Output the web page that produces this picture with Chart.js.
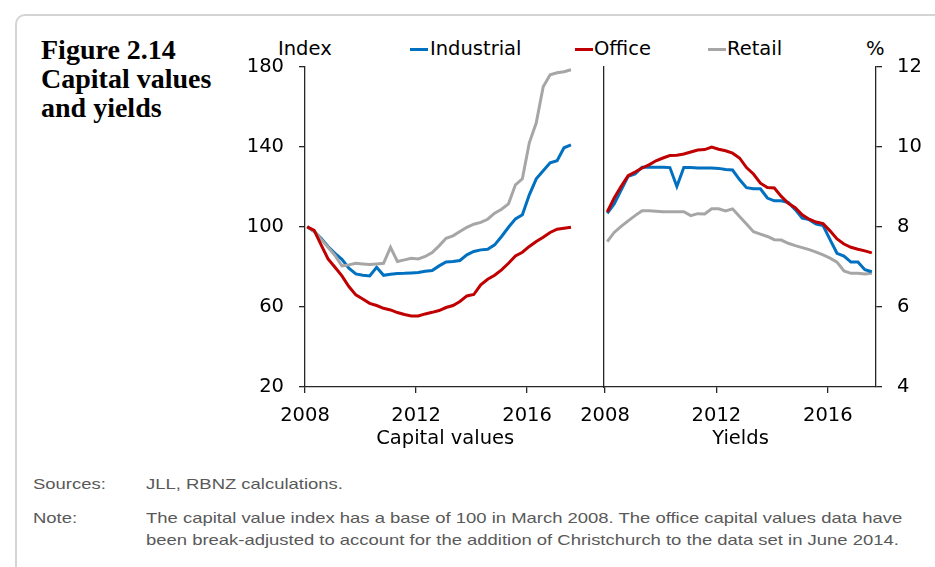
<!DOCTYPE html>
<html>
<head>
<meta charset="utf-8">
<script src="https://cdn.jsdelivr.net/npm/chart.js@4"></script>
<style>
  body { margin: 0; width: 935px; height: 567px; background: #fff; position: relative; overflow: hidden; font-family: 'DejaVu Sans', sans-serif; }
  .frame { position: absolute; left: 15px; top: 14px; width: 1000px; height: 700px; border: 2px solid #d4d4d4; border-radius: 10px; }
  .title { position: absolute; left: 41px; top: 35px; font: bold 28px/29px 'Liberation Serif', serif; color: #000; }
  .leg { position: absolute; top: 39px; font-size: 19.5px; line-height: 20px; color: #000; white-space: nowrap; }
  .sw { position: absolute; top: 48px; width: 18px; height: 3px; }
  .note { position: absolute; font: 15px/22px 'Liberation Sans', sans-serif; color: #595959; white-space: nowrap; transform: scaleX(1.23); transform-origin: 0 0; }
  canvas { position: absolute; }
</style>
</head>
<body>
<div class="frame"></div>
<div class="title">Figure 2.14<br>Capital values<br>and yields</div>

<div class="leg" style="left:278px">Index</div>
<div class="sw" style="left:410px;background:#0070c0"></div>
<div class="leg" style="left:430px">Industrial</div>
<div class="sw" style="left:575px;background:#c00000"></div>
<div class="leg" style="left:594px">Office</div>
<div class="sw" style="left:708px;background:#a6a6a6"></div>
<div class="leg" style="left:727px">Retail</div>
<div class="leg" style="left:866px">%</div>

<canvas id="capital" width="420" height="415" style="left:190px;top:40px"></canvas>
<canvas id="yields" width="375" height="415" style="left:560px;top:40px"></canvas>

<div class="note" style="left:33px;top:473px">Sources:</div>
<div class="note" style="left:146px;top:473px">JLL, RBNZ calculations.</div>
<div class="note" style="left:33px;top:507px">Note:</div>
<div class="note" style="left:146px;top:507px">The capital value index has a base of 100 in March 2008. The office capital values data have<br>been break-adjusted to account for the addition of Christchurch to the data set in June 2014.</div>

<script>
// quarterly observations, March 2008 to September 2017
const quarters = [
  '2008Q1','2008Q2','2008Q3','2008Q4','2009Q1','2009Q2','2009Q3','2009Q4',
  '2010Q1','2010Q2','2010Q3','2010Q4','2011Q1','2011Q2','2011Q3','2011Q4',
  '2012Q1','2012Q2','2012Q3','2012Q4','2013Q1','2013Q2','2013Q3','2013Q4',
  '2014Q1','2014Q2','2014Q3','2014Q4','2015Q1','2015Q2','2015Q3','2015Q4',
  '2016Q1','2016Q2','2016Q3','2016Q4','2017Q1','2017Q2','2017Q3'
];

// capital values index (March 2008 = 100)
const industrialCV = [100, 97.7, 94.3, 90.2, 86.8, 83.8, 79.3, 76.5, 75.8, 75.5, 79.8, 75.8, 76.3, 76.7, 76.8, 77, 77.2, 77.8, 78.2, 80.5,
  82.5, 82.7, 83.2, 86, 87.7, 88.5, 88.8, 91, 95.2, 99.8, 104, 106, 116, 124, 128, 132, 133, 139.5, 141];
const officeCV = [100, 98.2, 91, 84, 79.8, 75.5, 70.2, 66, 64, 61.8, 60.7, 59.3, 58.5, 57.2, 56.2, 55.5, 55.5, 56.5, 57.3, 58.2,
  59.7, 60.7, 62.7, 65.5, 66.2, 71, 73.8, 75.8, 78.5, 81.8, 85.5, 87.3, 90.2, 92.7, 94.8, 97.2, 98.8, 99.3, 99.8];
const retailCV = [100, 97.8, 93.8, 89.8, 85.7, 80.5, 81, 81.8, 81.5, 81.2, 81.5, 81.8, 89.8, 82.7, 83.5, 84.3, 84, 85.2, 87.2, 90.5,
  94.3, 95.5, 97.7, 99.8, 101.3, 102.2, 103.8, 106.8, 108.8, 111.5, 121, 124, 142, 152, 170, 176, 177, 177.5, 178.5];

// yields, %
const industrialYield = [8.34, 8.57, 8.92, 9.26, 9.32, 9.49, 9.49, 9.49, 9.49, 9.48, 9.01, 9.48, 9.48, 9.47, 9.47, 9.47, 9.46, 9.43, 9.42, 9.18,
  8.98, 8.95, 8.95, 8.72, 8.65, 8.65, 8.61, 8.43, 8.22, 8.18, 8.07, 8.03, 7.68, 7.34, 7.27, 7.12, 7.12, 6.93, 6.88];
const officeYield = [8.37, 8.72, 9.01, 9.28, 9.37, 9.47, 9.55, 9.65, 9.72, 9.78, 9.79, 9.82, 9.87, 9.92, 9.93, 9.99, 9.94, 9.9, 9.84, 9.72,
  9.48, 9.32, 9.09, 8.98, 8.97, 8.76, 8.59, 8.48, 8.3, 8.19, 8.12, 8.08, 7.9, 7.7, 7.57, 7.49, 7.44, 7.4, 7.35];
const retailYield = [7.63, 7.86, 8.01, 8.15, 8.28, 8.4, 8.4, 8.39, 8.38, 8.38, 8.38, 8.38, 8.28, 8.33, 8.32, 8.45, 8.45, 8.4, 8.45, 8.26,
  8.07, 7.88, 7.82, 7.76, 7.68, 7.67, 7.59, 7.53, 7.48, 7.43, 7.37, 7.3, 7.22, 7.12, 6.9, 6.84, 6.84, 6.82, 6.84];

const yearTicks = [2008, 2012, 2016];
const indexTicks = [20, 60, 100, 140, 180];
const yieldTicks = [4, 6, 8, 10, 12];

const BLUE = '#0070c0', RED = '#c00000', GREY = '#a6a6a6';
const axisColor = '#262626';

Chart.defaults.font.family = "'DejaVu Sans', sans-serif";
Chart.defaults.font.size = 19.5;
Chart.defaults.color = '#000';

// quarter label -> decimal year (plotted roughly at start of the quarter)
const toYear = (q) => parseInt(q) + (parseInt(q.slice(5)) - 1) / 4 + 0.08;
const pts = (vals) => vals.map((v, i) => ({ x: toYear(quarters[i]), y: v }));

const line = (label, vals, color, order) => ({
  label, data: pts(vals), borderColor: color, backgroundColor: color,
  borderWidth: 3, pointRadius: 0, tension: 0, order
});

function xAxis(max, title) {
  return {
    type: 'linear', min: 2008, max,
    afterBuildTicks: (s) => { s.ticks = yearTicks.map((v) => ({ value: v })); },
    afterFit: (s) => { s.height = 68; },
    border: { color: axisColor, width: 1.3 },
    grid: { drawOnChartArea: false, drawTicks: true, tickLength: 6, color: axisColor, lineWidth: 1.3 },
    ticks: { padding: 11, maxRotation: 0, autoSkip: false, callback: (v) => String(v) },
    title: { display: true, text: title, color: '#000', padding: { top: 0, bottom: 4 } }
  };
}

function yAxis(min, max, ticks, position, width) {
  return {
    type: 'linear', min, max, position,
    afterBuildTicks: (s) => { s.ticks = ticks.map((v) => ({ value: v })); },
    afterFit: (s) => { s.width = width; },
    border: { color: axisColor, width: 1.3 },
    grid: { drawOnChartArea: false, drawTicks: true, tickLength: 6, color: axisColor, lineWidth: 1.3 },
    ticks: { padding: 15 }
  };
}

new Chart(document.getElementById('capital'), {
  type: 'line',
  data: {
    datasets: [
      line('Industrial', industrialCV, BLUE, 3),
      line('Office', officeCV, RED, 1),
      line('Retail', retailCV, GREY, 2)
    ]
  },
  options: {
    responsive: false,
    animation: false,
    devicePixelRatio: 1,
    layout: { padding: { top: 1, right: 6, bottom: 0, left: 0 } },
    plugins: { legend: { display: false }, tooltip: { enabled: false } },
    scales: {
      x: xAxis(2018.77, 'Capital values   '),
      y: yAxis(20, 180, indexTicks, 'left', 115),
      // divider between the two panels
      y2: {
        type: 'linear', min: 20, max: 180, position: 'right',
        afterFit: (s) => { s.width = 0; },
        grid: { display: false },
        ticks: { display: false },
        border: { display: true, color: axisColor, width: 1.3 }
      }
    }
  }
});

new Chart(document.getElementById('yields'), {
  type: 'line',
  data: {
    datasets: [
      line('Industrial', industrialYield, BLUE, 2),
      line('Office', officeYield, RED, 1),
      line('Retail', retailYield, GREY, 3)
    ]
  },
  options: {
    responsive: false,
    animation: false,
    devicePixelRatio: 1,
    layout: { padding: { top: 1, right: 0, bottom: 0, left: 45 } },
    plugins: { legend: { display: false }, tooltip: { enabled: false } },
    scales: {
      x: xAxis(2017.73, 'Yields'),
      y: yAxis(4, 12, yieldTicks, 'right', 59)
    }
  }
});
</script>
</body>
</html>
